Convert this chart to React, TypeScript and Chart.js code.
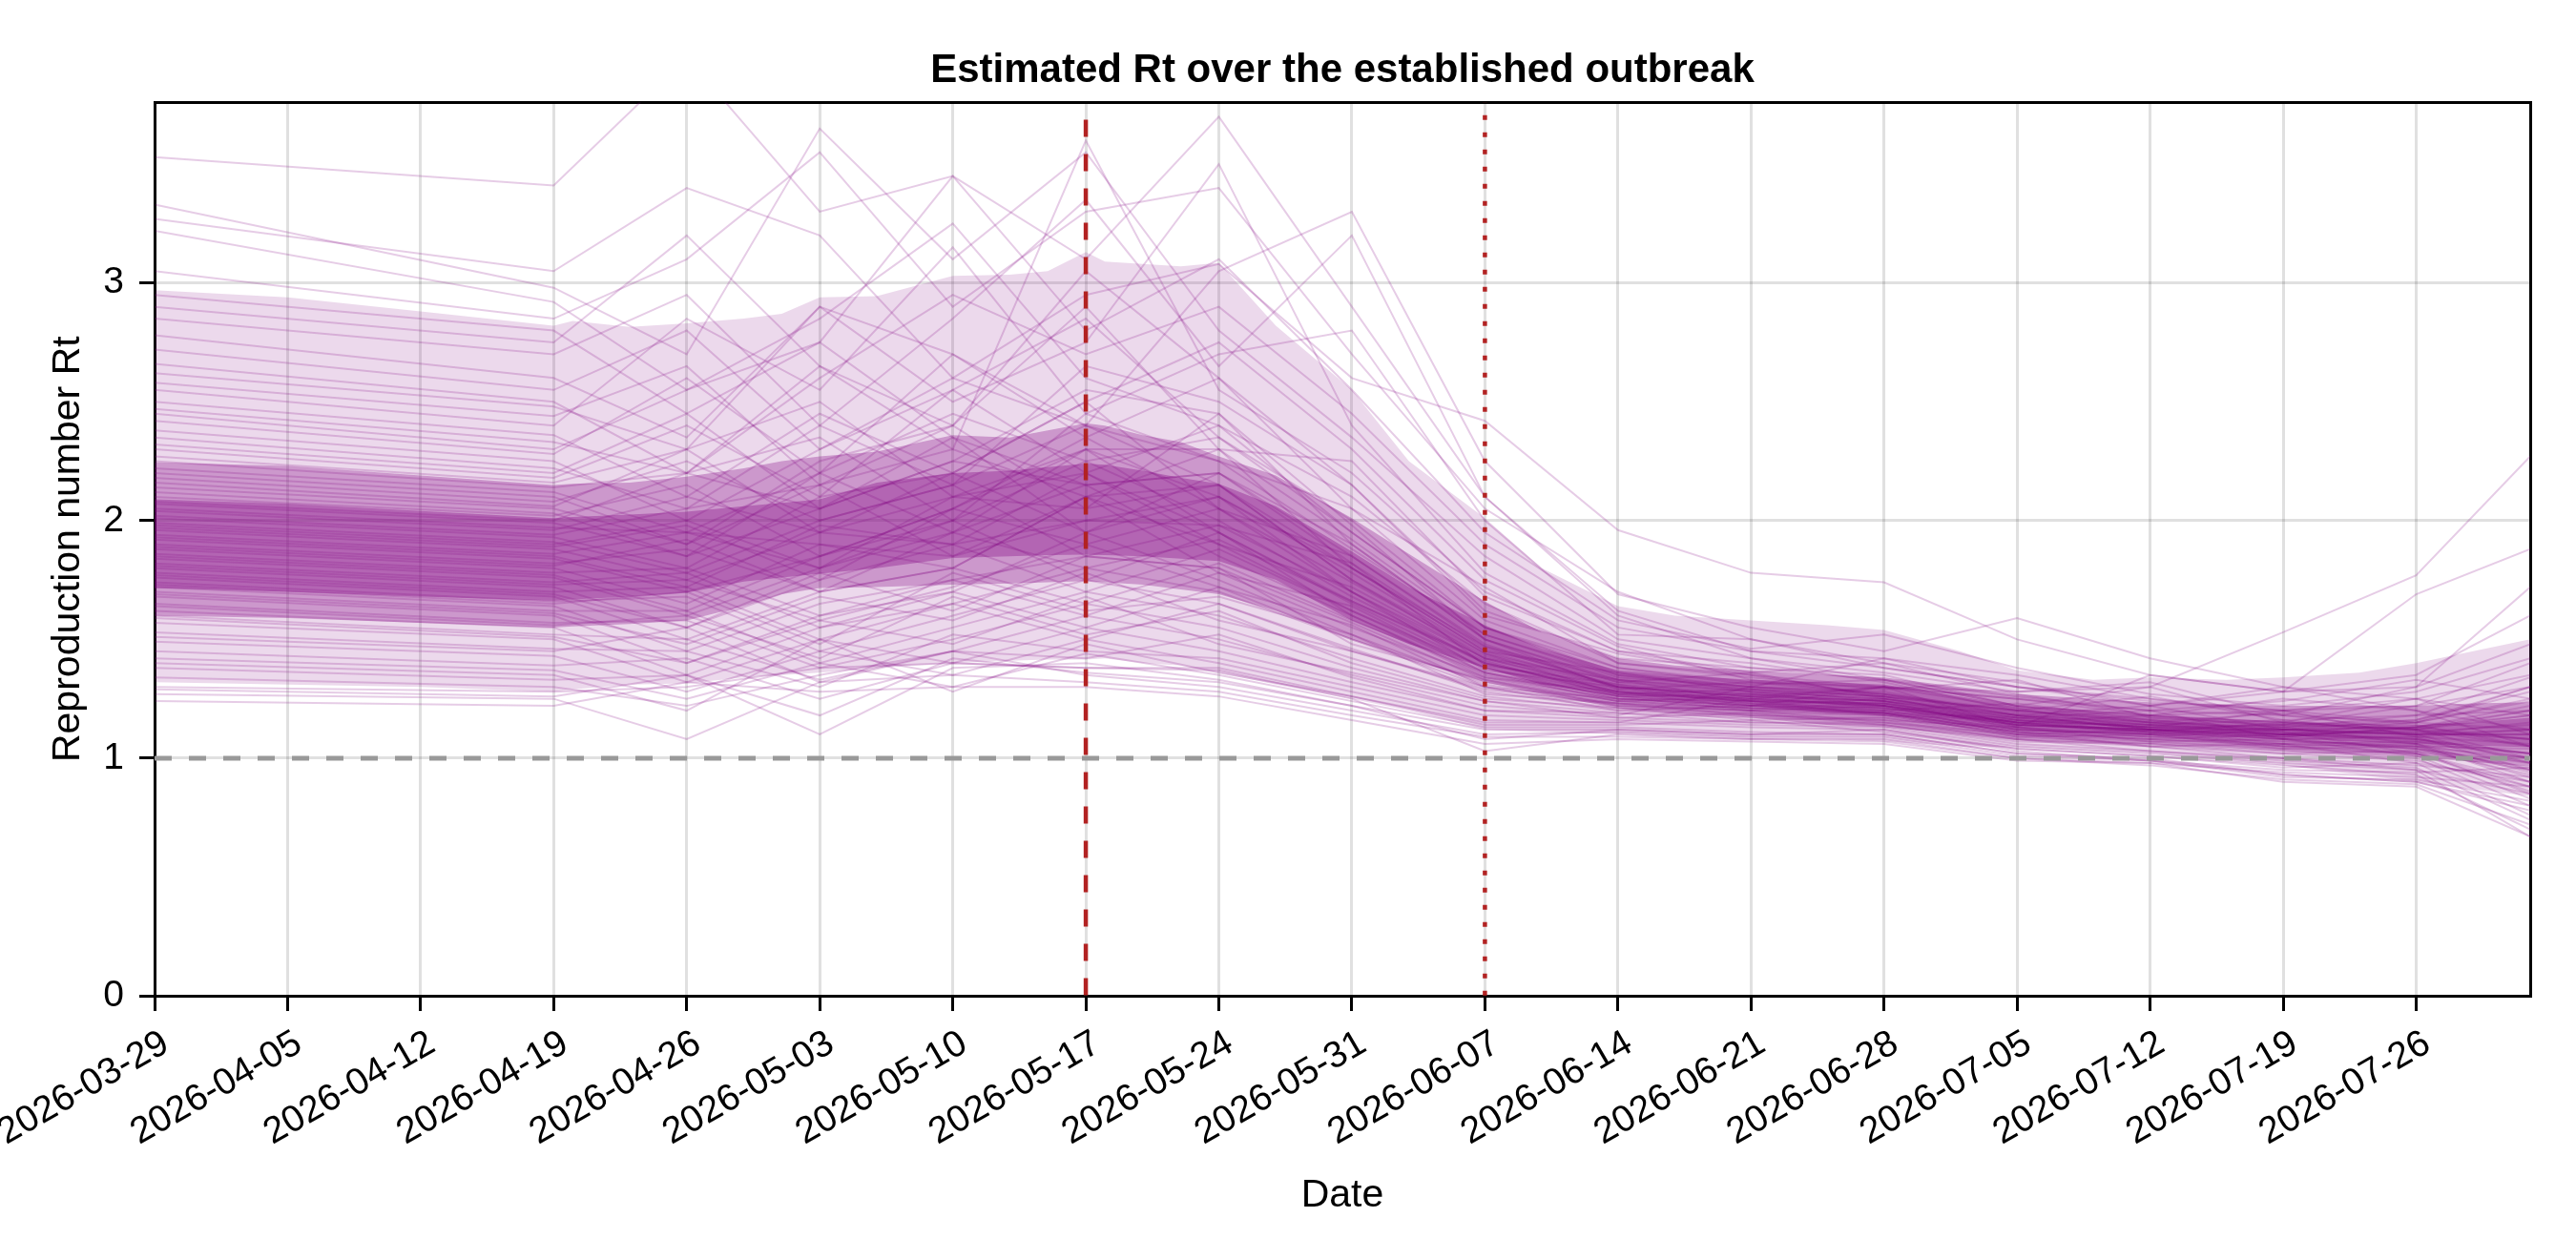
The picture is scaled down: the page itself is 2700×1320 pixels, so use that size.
import React, { useEffect, useRef } from "react";
import { Chart, registerables } from "chart.js";

Chart.register(...registerables);

// ---------- data ----------
const startDateUTC = Date.UTC(2026, 2, 29); // day 0 = 2026-03-29
const xMinDay = 0;
const xMaxDay = 125; // 2026-08-01
const yMax = 3.76;
const tickStepDays = 7;
const yTickStep = 1;

const titleText = "Estimated Rt over the established outbreak";
const xLabel = "Date";
const yLabel = "Reproduction number Rt";

const thresholdRt = 1;
const dashedMarkerDay = 49; // 2026-05-17
const dottedMarkerDay = 70; // 2026-06-07

// band edges (days since 2026-03-29)
const bandDays = [0, 7, 14, 21, 22, 25, 28, 31, 33, 35, 38, 42, 45, 47, 49, 50, 52, 54, 56, 59, 63, 66, 70, 73, 77, 80, 84, 88, 91, 95, 98, 102, 105, 109, 112, 116, 119, 122, 125];
const outerUpper = [2.97, 2.94, 2.88, 2.82, 2.84, 2.815, 2.83, 2.85, 2.87, 2.94, 2.945, 3.03, 3.035, 3.05, 3.13, 3.09, 3.08, 3.07, 3.085, 2.82, 2.55, 2.25, 2.01, 1.8, 1.64, 1.6, 1.58, 1.56, 1.54, 1.45, 1.37, 1.33, 1.34, 1.33, 1.34, 1.36, 1.4, 1.45, 1.5];
const outerLower = [1.32, 1.31, 1.3, 1.28, 1.29, 1.31, 1.315, 1.34, 1.35, 1.36, 1.38, 1.4, 1.41, 1.415, 1.415, 1.42, 1.4, 1.39, 1.36, 1.31, 1.25, 1.2, 1.12, 1.11, 1.1, 1.09, 1.08, 1.08, 1.07, 1.05, 1.045, 1.03, 1.02, 0.99, 0.97, 0.93, 0.9, 0.87, 0.84];
const midUpper = [2.245, 2.23, 2.19, 2.15, 2.155, 2.16, 2.185, 2.22, 2.25, 2.27, 2.29, 2.36, 2.35, 2.38, 2.41, 2.4, 2.36, 2.33, 2.27, 2.19, 2.01, 1.86, 1.66, 1.53, 1.42, 1.39, 1.37, 1.35, 1.34, 1.3, 1.27, 1.25, 1.235, 1.225, 1.22, 1.22, 1.22, 1.23, 1.235];
const midLower = [1.6, 1.59, 1.57, 1.55, 1.555, 1.565, 1.58, 1.64, 1.69, 1.716, 1.72, 1.73, 1.735, 1.74, 1.745, 1.74, 1.73, 1.71, 1.69, 1.62, 1.5, 1.42, 1.32, 1.27, 1.21, 1.19, 1.17, 1.14, 1.13, 1.1, 1.075, 1.065, 1.06, 1.045, 1.03, 1.015, 1.005, 0.985, 0.965];
const innerUpper = [2.09, 2.07, 2.04, 2.01, 2.015, 2.025, 2.037, 2.06, 2.075, 2.09, 2.16, 2.2, 2.21, 2.225, 2.24, 2.235, 2.21, 2.18, 2.155, 2.06, 1.87, 1.72, 1.56, 1.46, 1.37, 1.35, 1.33, 1.32, 1.31, 1.26, 1.22, 1.2, 1.18, 1.165, 1.155, 1.145, 1.14, 1.15, 1.17];
const innerLower = [1.716, 1.7, 1.68, 1.663, 1.668, 1.68, 1.696, 1.743, 1.76, 1.776, 1.8, 1.843, 1.85, 1.855, 1.857, 1.855, 1.85, 1.84, 1.83, 1.75, 1.58, 1.48, 1.38, 1.31, 1.26, 1.24, 1.22, 1.19, 1.18, 1.14, 1.114, 1.105, 1.1, 1.09, 1.08, 1.07, 1.061, 1.053, 1.046];

// sample trajectories, values at these days
const sampleDays = [0, 21, 28, 35, 42, 49, 56, 63, 70, 77, 84, 91, 98, 105, 112, 119, 125];
const sampleTrajectories = [
  [3.53, 3.41, 3.95, 3.3, 3.45, 3.1, 3.7, 2.9, 2.1, 1.62, 1.45, 1.38, 1.3, 1.25, 1.2, 1.22, 1.3],
  [3.33, 2.98, 2.7, 3.65, 3.1, 3.55, 2.8, 2.35, 1.85, 1.5, 1.42, 1.33, 1.22, 1.18, 1.15, 1.12, 1.05],
  [3.27, 3.05, 3.4, 3.2, 2.6, 2.95, 3.08, 2.6, 2.42, 1.96, 1.78, 1.74, 1.5, 1.35, 1.28, 1.3, 1.48],
  [3.22, 2.92, 2.55, 2.85, 3.25, 2.6, 2.4, 2.1, 1.65, 1.4, 1.35, 1.3, 1.25, 1.2, 1.18, 1.15, 1.12],
  [2.9, 2.75, 3.2, 2.65, 2.3, 3.6, 2.55, 2.2, 1.7, 1.45, 1.4, 1.32, 1.2, 1.15, 1.1, 1.08, 1.0],
  [2.78, 2.6, 2.35, 2.9, 2.7, 2.4, 3.05, 3.3, 2.25, 1.69, 1.55, 1.45, 1.59, 1.42, 1.3, 1.25, 1.18],
  [2.72, 2.55, 2.8, 2.3, 2.55, 2.85, 2.35, 1.95, 1.55, 1.35, 1.3, 1.28, 1.18, 1.12, 1.08, 1.05, 0.95],
  [2.66, 2.5, 2.2, 2.6, 2.95, 2.7, 2.9, 2.45, 1.9, 1.55, 1.45, 1.42, 1.3, 1.22, 1.28, 1.35, 1.6],
  [2.58, 2.44, 2.65, 2.15, 2.4, 3.05, 2.6, 2.15, 1.62, 1.42, 1.38, 1.35, 1.22, 1.3, 1.15, 1.25, 1.1],
  [2.5, 2.36, 2.1, 2.45, 2.2, 2.5, 2.75, 2.3, 1.75, 1.47, 1.33, 1.27, 1.2, 1.16, 1.12, 1.13, 1.08],
  [2.45, 2.3, 2.55, 2.75, 2.35, 2.15, 2.2, 1.85, 1.48, 1.3, 1.26, 1.24, 1.15, 1.1, 1.05, 1.02, 0.88],
  [2.38, 2.25, 2.0, 2.3, 2.6, 2.4, 2.25, 2.05, 1.58, 1.38, 1.32, 1.3, 1.25, 1.18, 1.2, 1.25, 1.35],
  [2.32, 2.2, 2.45, 2.05, 2.25, 2.55, 2.45, 1.9, 1.5, 1.33, 1.28, 1.25, 1.17, 1.13, 1.1, 1.07, 1.02],
  [2.27, 2.16, 2.3, 2.5, 2.1, 2.3, 2.1, 1.8, 1.45, 1.3, 1.27, 1.22, 1.14, 1.12, 1.12, 1.1, 1.1],
  [2.22, 2.12, 1.95, 2.2, 2.45, 2.25, 2.35, 2.0, 1.55, 1.36, 1.3, 1.26, 1.2, 1.15, 1.13, 1.15, 1.25],
  [2.18, 2.08, 2.25, 2.0, 2.15, 2.4, 2.15, 1.75, 1.42, 1.28, 1.24, 1.23, 1.15, 1.11, 1.08, 1.04, 0.96],
  [2.14, 2.05, 1.9, 2.15, 2.3, 2.1, 2.3, 1.92, 1.52, 1.34, 1.3, 1.27, 1.18, 1.14, 1.16, 1.18, 1.2],
  [2.1, 2.02, 2.15, 1.85, 2.05, 2.35, 2.05, 1.7, 1.4, 1.27, 1.25, 1.22, 1.14, 1.12, 1.1, 1.08, 1.02],
  [2.07, 1.99, 1.85, 2.05, 2.25, 2.15, 2.2, 1.82, 1.46, 1.32, 1.28, 1.25, 1.17, 1.14, 1.12, 1.1, 1.12],
  [2.04, 1.96, 2.1, 1.95, 1.9, 2.2, 1.95, 1.65, 1.38, 1.25, 1.22, 1.3, 1.13, 1.35, 1.28, 1.69, 1.88],
  [2.01, 1.93, 1.8, 2.1, 2.2, 1.95, 2.1, 1.78, 1.44, 1.31, 1.27, 1.24, 1.16, 1.13, 1.14, 1.12, 1.18],
  [1.98, 1.9, 2.0, 1.8, 2.0, 2.25, 2.0, 1.68, 1.4, 1.28, 1.24, 1.23, 1.15, 1.11, 1.09, 1.06, 0.98],
  [1.96, 1.88, 1.75, 1.95, 2.1, 2.05, 2.15, 1.8, 1.47, 1.33, 1.29, 1.26, 1.18, 1.15, 1.12, 1.11, 1.14],
  [1.94, 1.86, 1.95, 1.9, 1.8, 2.1, 1.9, 1.62, 1.36, 1.26, 1.23, 1.21, 1.14, 1.12, 1.1, 1.09, 1.06],
  [1.92, 1.84, 1.7, 1.85, 2.05, 1.9, 2.05, 1.74, 1.43, 1.3, 1.26, 1.24, 1.17, 1.13, 1.11, 1.1, 1.1],
  [1.9, 1.82, 1.88, 1.7, 1.95, 2.15, 1.85, 1.6, 1.35, 1.25, 1.22, 1.21, 1.13, 1.1, 1.07, 1.05, 0.92],
  [1.88, 1.8, 1.65, 1.9, 1.85, 2.0, 1.98, 1.7, 1.42, 1.29, 1.25, 1.23, 1.16, 1.13, 1.12, 1.13, 1.22],
  [1.86, 1.78, 1.8, 1.6, 1.75, 1.85, 1.8, 1.57, 1.33, 1.24, 1.21, 1.2, 1.12, 1.09, 1.06, 1.04, 0.98],
  [1.84, 1.76, 1.6, 1.8, 1.95, 1.8, 1.92, 1.66, 1.4, 1.28, 1.25, 1.22, 1.15, 1.12, 1.1, 1.11, 1.08],
  [1.82, 1.74, 1.78, 1.55, 1.7, 1.95, 1.75, 1.52, 1.31, 1.23, 1.21, 1.19, 1.11, 1.08, 1.05, 1.03, 0.85],
  [1.8, 1.72, 1.55, 1.75, 1.9, 1.7, 1.88, 1.62, 1.38, 1.27, 1.24, 1.22, 1.14, 1.12, 1.14, 1.16, 1.3],
  [1.78, 1.7, 1.72, 1.5, 1.65, 1.8, 1.7, 1.5, 1.3, 1.22, 1.2, 1.19, 1.11, 1.08, 1.06, 1.05, 1.0],
  [1.76, 1.68, 1.5, 1.7, 1.8, 1.65, 1.82, 1.58, 1.36, 1.26, 1.2, 1.15, 1.1, 1.05, 1.0, 0.95, 0.67],
  [1.74, 1.66, 1.68, 1.45, 1.6, 1.75, 1.65, 1.46, 1.28, 1.21, 1.19, 1.18, 1.1, 1.07, 1.04, 1.02, 0.9],
  [1.72, 1.64, 1.45, 1.65, 1.75, 1.6, 1.78, 1.55, 1.34, 1.25, 1.22, 1.2, 1.12, 1.1, 1.08, 1.09, 1.12],
  [1.7, 1.62, 1.62, 1.4, 1.55, 1.7, 1.6, 1.42, 1.26, 1.2, 1.18, 1.17, 1.09, 1.06, 1.03, 1.0, 0.8],
  [1.68, 1.6, 1.4, 1.6, 1.7, 1.55, 1.72, 1.5, 1.32, 1.24, 1.21, 1.19, 1.11, 1.09, 1.07, 1.06, 1.02],
  [1.65, 1.57, 1.58, 1.38, 1.5, 1.65, 1.55, 1.38, 1.24, 1.19, 1.17, 1.16, 1.08, 1.05, 1.02, 0.99, 0.88],
  [1.62, 1.55, 1.35, 1.55, 1.65, 1.5, 1.65, 1.45, 1.29, 1.23, 1.2, 1.18, 1.1, 1.08, 1.1, 1.12, 1.2],
  [1.6, 1.52, 1.5, 1.33, 1.45, 1.6, 1.5, 1.35, 1.22, 1.18, 1.3, 1.42, 1.35, 1.25, 1.18, 1.3, 1.72],
  [1.57, 1.5, 1.32, 1.5, 1.4, 1.55, 1.45, 1.32, 1.2, 1.17, 1.15, 1.14, 1.06, 1.03, 1.0, 0.97, 0.92],
  [1.53, 1.46, 1.45, 1.3, 1.52, 1.45, 1.42, 1.3, 1.18, 1.16, 1.14, 1.13, 1.05, 1.02, 0.98, 0.95, 0.85],
  [1.49, 1.43, 1.28, 1.45, 1.35, 1.5, 1.4, 1.28, 1.16, 1.15, 1.13, 1.12, 1.04, 1.01, 0.97, 0.93, 0.7],
  [1.45, 1.39, 1.42, 1.25, 1.4, 1.38, 1.38, 1.26, 1.15, 1.15, 1.25, 1.3, 1.28, 1.3, 1.53, 1.77, 2.27],
  [1.42, 1.37, 1.25, 1.4, 1.3, 1.44, 1.35, 1.24, 1.13, 1.13, 1.11, 1.1, 1.02, 0.99, 0.95, 0.94, 0.96],
  [1.38, 1.33, 1.35, 1.1, 1.38, 1.4, 1.33, 1.22, 1.12, 1.12, 1.1, 1.1, 1.02, 1.0, 0.93, 0.9, 0.78],
  [1.34, 1.3, 1.22, 1.35, 1.45, 1.35, 1.3, 1.2, 1.1, 1.11, 1.09, 1.09, 1.01, 0.99, 0.92, 0.91, 0.82],
  [1.3, 1.28, 1.3, 1.38, 1.4, 1.38, 1.37, 1.25, 1.03, 1.1, 1.08, 1.08, 1.0, 0.98, 0.9, 0.88, 0.67],
  [1.27, 1.25, 1.08, 1.32, 1.35, 1.32, 1.28, 1.18, 1.09, 1.09, 1.08, 1.07, 1.0, 0.97, 0.91, 0.89, 0.72],
  [1.24, 1.22, 1.32, 1.28, 1.3, 1.3, 1.26, 1.16, 1.06, 1.08, 1.07, 1.06, 0.99, 0.98, 0.94, 0.92, 0.88],
  [3.05, 2.85, 3.1, 3.55, 2.9, 3.3, 3.4, 2.7, 2.05, 1.7, 1.5, 1.4, 1.32, 1.22, 1.3, 1.2, 1.05],
  [2.95, 2.8, 2.45, 2.75, 3.45, 2.8, 3.1, 2.55, 1.95, 1.58, 1.46, 1.52, 1.38, 1.27, 1.22, 1.28, 1.42],
  [2.85, 2.7, 2.95, 2.4, 2.85, 3.35, 2.65, 3.2, 2.1, 1.6, 1.42, 1.36, 1.28, 1.32, 1.18, 1.12, 1.0],
  [2.62, 2.48, 2.3, 2.9, 2.5, 2.75, 3.5, 2.4, 1.78, 1.48, 1.38, 1.33, 1.26, 1.2, 1.24, 1.33, 1.25],
  [2.55, 2.4, 2.85, 2.55, 3.15, 2.45, 2.7, 2.8, 2.0, 1.52, 1.5, 1.38, 1.3, 1.24, 1.2, 1.15, 1.3],
  [2.47, 2.33, 2.2, 2.65, 2.4, 2.9, 2.3, 2.25, 1.68, 1.45, 1.36, 1.4, 1.27, 1.18, 1.25, 1.2, 1.12],
  [2.42, 2.28, 2.6, 2.2, 2.7, 2.35, 2.6, 2.05, 1.72, 1.4, 1.34, 1.29, 1.33, 1.17, 1.14, 1.22, 1.4],
  [2.35, 2.22, 2.05, 2.4, 2.15, 2.65, 2.5, 2.15, 1.6, 1.44, 1.35, 1.26, 1.2, 1.26, 1.16, 1.1, 0.98],
  [2.3, 2.18, 2.4, 2.1, 2.55, 2.2, 2.4, 1.95, 1.55, 1.38, 1.31, 1.33, 1.22, 1.15, 1.19, 1.14, 1.05],
  [2.25, 2.14, 2.2, 2.35, 2.0, 2.45, 2.25, 1.88, 1.52, 1.35, 1.29, 1.24, 1.18, 1.22, 1.12, 1.16, 1.28],
  [2.2, 2.1, 1.9, 2.25, 2.4, 2.05, 2.45, 1.98, 1.5, 1.32, 1.36, 1.25, 1.16, 1.13, 1.2, 1.09, 0.95],
  [2.16, 2.06, 2.3, 1.95, 2.2, 2.5, 2.05, 1.85, 1.47, 1.3, 1.26, 1.3, 1.21, 1.12, 1.09, 1.13, 1.18],
  [2.12, 2.03, 1.85, 2.2, 1.95, 2.3, 2.3, 1.8, 1.45, 1.36, 1.28, 1.22, 1.15, 1.18, 1.13, 1.06, 0.9],
  [2.08, 2.0, 2.2, 2.05, 2.35, 1.95, 2.2, 1.9, 1.5, 1.29, 1.32, 1.27, 1.19, 1.14, 1.1, 1.15, 1.24],
  [2.05, 1.97, 1.95, 1.8, 2.1, 2.2, 1.9, 1.72, 1.42, 1.33, 1.24, 1.2, 1.23, 1.16, 1.11, 1.08, 1.02],
  [2.02, 1.94, 2.05, 2.15, 1.85, 2.1, 2.15, 1.75, 1.44, 1.27, 1.29, 1.26, 1.14, 1.11, 1.15, 1.12, 1.08],
  [1.99, 1.91, 1.78, 2.0, 2.15, 1.85, 1.98, 1.82, 1.39, 1.31, 1.23, 1.19, 1.17, 1.2, 1.08, 1.04, 0.93],
  [1.97, 1.89, 1.98, 1.75, 2.05, 2.3, 1.95, 1.66, 1.41, 1.26, 1.27, 1.24, 1.12, 1.1, 1.13, 1.18, 1.34],
  [1.93, 1.85, 1.72, 1.98, 1.9, 2.0, 2.1, 1.7, 1.37, 1.3, 1.22, 1.25, 1.18, 1.12, 1.06, 1.07, 1.0],
  [1.89, 1.81, 1.92, 1.7, 1.8, 2.1, 1.78, 1.64, 1.36, 1.24, 1.26, 1.21, 1.15, 1.14, 1.11, 1.02, 0.86],
  [1.85, 1.77, 1.62, 1.85, 2.0, 1.75, 1.95, 1.6, 1.34, 1.28, 1.21, 1.23, 1.13, 1.09, 1.12, 1.1, 1.15],
  [1.81, 1.73, 1.75, 1.58, 1.72, 1.9, 1.72, 1.56, 1.3, 1.25, 1.24, 1.18, 1.16, 1.11, 1.05, 1.06, 0.94],
  [1.77, 1.69, 1.55, 1.78, 1.62, 1.85, 1.8, 1.48, 1.33, 1.22, 1.2, 1.22, 1.1, 1.12, 1.09, 1.13, 1.2],
  [1.73, 1.65, 1.7, 1.48, 1.78, 1.62, 1.68, 1.52, 1.27, 1.23, 1.18, 1.16, 1.13, 1.07, 1.08, 1.01, 0.83],
  [1.69, 1.61, 1.48, 1.68, 1.58, 1.78, 1.58, 1.45, 1.3, 1.2, 1.22, 1.19, 1.09, 1.1, 1.04, 1.05, 1.04],
  [1.64, 1.56, 1.6, 1.42, 1.68, 1.52, 1.62, 1.4, 1.25, 1.21, 1.16, 1.17, 1.11, 1.05, 1.06, 0.98, 0.76],
  [1.59, 1.51, 1.4, 1.58, 1.48, 1.68, 1.48, 1.36, 1.24, 1.17, 1.19, 1.14, 1.07, 1.06, 1.02, 1.03, 0.95],
  [1.51, 1.45, 1.55, 1.32, 1.45, 1.42, 1.52, 1.34, 1.2, 1.19, 1.15, 1.15, 1.08, 1.03, 0.99, 0.96, 0.74],
  [1.4, 1.35, 1.2, 1.5, 1.28, 1.48, 1.36, 1.26, 1.14, 1.14, 1.16, 1.11, 1.04, 1.01, 0.96, 0.98, 0.9],
  [1.29, 1.26, 1.35, 1.18, 1.42, 1.36, 1.32, 1.22, 1.08, 1.12, 1.1, 1.12, 1.03, 0.99, 0.93, 0.9, 0.8],
];

// ---------- styling ----------
const fontFamily = "'Liberation Sans', Arial, Helvetica, sans-serif";
const purple = (a: number) => `rgba(128, 0, 128, ${a})`;
const gridColor = "rgba(0, 0, 0, 0.12)";

const fmtDay = (d: number) => new Date(startDateUTC + Math.round(d) * 86400000).toISOString().slice(0, 10);
const pts = (xs: number[], ys: number[]) => xs.map((x, i) => ({ x, y: ys[i] }));

export default function App() {
  const canvasRef = useRef<HTMLCanvasElement | null>(null);

  useEffect(() => {
    document.body.style.margin = "0";
    const canvas = canvasRef.current;
    if (!canvas) return;

    const band = (upper: number[], lower: number[], alpha: number, order: number) => [
      {
        data: pts(bandDays, upper),
        borderWidth: 0,
        borderColor: "transparent",
        backgroundColor: purple(alpha),
        pointRadius: 0,
        fill: "+1",
        order,
      },
      {
        data: pts(bandDays, lower),
        borderWidth: 0,
        borderColor: "transparent",
        backgroundColor: "transparent",
        pointRadius: 0,
        fill: false,
        order,
      },
    ];

    const refLines = [
      {
        data: [{ x: xMinDay, y: thresholdRt }, { x: xMaxDay, y: thresholdRt }],
        borderColor: "rgb(153, 153, 153)",
        borderWidth: 5,
        borderDash: [18, 18],
        pointRadius: 0,
        fill: false,
        order: 0,
        clip: 0,
      },
      {
        data: [{ x: dashedMarkerDay, y: yMax }, { x: dashedMarkerDay, y: 0 }],
        borderColor: "rgb(178, 34, 34)",
        borderWidth: 4.5,
        borderDash: [18, 18],
        borderDashOffset: 18,
        pointRadius: 0,
        fill: false,
        order: 0,
        clip: 0,
      },
      {
        data: [{ x: dottedMarkerDay, y: yMax }, { x: dottedMarkerDay, y: 0 }],
        borderColor: "rgb(178, 34, 34)",
        borderWidth: 4.5,
        borderDash: [5, 13],
        borderDashOffset: 4.6,
        pointRadius: 0,
        fill: false,
        order: 0,
        clip: 0,
      },
    ];

    const sampleSets = sampleTrajectories.map((traj) => ({
      data: pts(sampleDays, traj),
      borderColor: purple(0.2),
      borderWidth: 2,
      pointRadius: 0,
      fill: false,
      tension: 0,
      order: 1,
      clip: 0,
    }));

    const datasets: any[] = [
      ...refLines,
      ...sampleSets,
      ...band(innerUpper, innerLower, 0.34, 2),
      ...band(midUpper, midLower, 0.3, 3),
      ...band(outerUpper, outerLower, 0.15, 4),
    ];

    const axisBorder = { display: true, color: "#000", width: 3 };
    const gridOpts = { color: gridColor, lineWidth: 3, tickColor: "#000", tickWidth: 3, tickLength: 16 };

    const chart = new Chart(canvas, {
      type: "line",
      data: { datasets },
      options: {
        animation: false,
        responsive: false,
        maintainAspectRatio: false,
        devicePixelRatio: 1,
        events: [],
        layout: { padding: { top: 0, left: 0, right: 48, bottom: 0 } },
        plugins: {
          legend: { display: false },
          tooltip: { enabled: false },
          title: {
            display: true,
            text: titleText,
            color: "#000",
            fullSize: false,
            font: { family: fontFamily, size: 42, weight: "bold", lineHeight: 1.2 },
            padding: { top: 49, bottom: 8 },
          },
        },
        scales: {
          x: {
            type: "linear",
            position: "bottom",
            min: xMinDay,
            max: xMaxDay,
            ticks: {
              stepSize: tickStepDays,
              includeBounds: false,
              autoSkip: false,
              maxTicksLimit: 100,
              minRotation: 30,
              maxRotation: 30,
              padding: 11,
              labelOffset: 12,
              color: "#000",
              font: { family: fontFamily, size: 39, lineHeight: 1.2 },
              callback: (v: any) => fmtDay(Number(v)),
            },
            grid: gridOpts,
            border: axisBorder,
            title: {
              display: true,
              text: xLabel,
              color: "#000",
              font: { family: fontFamily, size: 41, lineHeight: 1.2 },
              padding: { top: 0, bottom: 42 },
            },
            afterFit: (s: any) => {
              s.height = 276;
              s.paddingLeft = 0;
              s.paddingRight = 0;
            },
          },
          y: {
            type: "linear",
            position: "left",
            min: 0,
            max: yMax,
            ticks: {
              stepSize: yTickStep,
              includeBounds: false,
              padding: 16,
              color: "#000",
              font: { family: fontFamily, size: 39, lineHeight: 1.2 },
              callback: (v: any) => String(v),
            },
            grid: gridOpts,
            border: axisBorder,
            title: {
              display: true,
              text: yLabel,
              color: "#000",
              font: { family: fontFamily, size: 41, lineHeight: 1.2 },
              padding: { top: 47, bottom: 0 },
            },
            afterFit: (s: any) => {
              s.width = 162;
            },
          },
          x2: {
            type: "linear",
            position: "top",
            min: xMinDay,
            max: xMaxDay,
            grid: { display: false, drawTicks: false },
            ticks: { display: false },
            border: axisBorder,
            afterFit: (s: any) => {
              s.height = 0;
              s.paddingLeft = 0;
              s.paddingRight = 0;
            },
          },
          y2: {
            type: "linear",
            position: "right",
            min: 0,
            max: yMax,
            grid: { display: false, drawTicks: false },
            ticks: { display: false },
            border: axisBorder,
            afterFit: (s: any) => {
              s.width = 0;
            },
          },
        },
      } as any,
    });

    return () => chart.destroy();
  }, []);

  return (
    <canvas
      ref={canvasRef}
      width={2700}
      height={1320}
      style={{ display: "block", width: "2700px", height: "1320px" }}
    />
  );
}
